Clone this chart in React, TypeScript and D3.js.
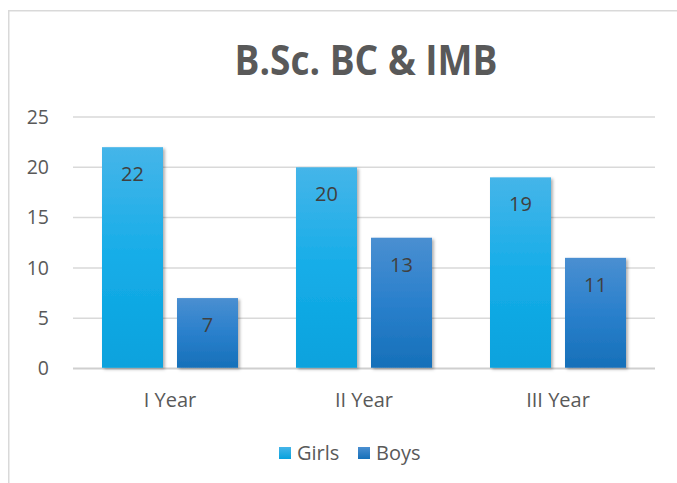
import React from "react";
import * as d3 from "d3";

const title = "B.Sc. BC & IMB";
const categories = ["I Year", "II Year", "III Year"];
const seriesNames = ["Girls", "Boys"];
const girls = [22, 20, 19];
const boys = [7, 13, 11];
const yTicks = [0, 5, 10, 15, 20, 25];

const W = 677;
const H = 483;
const FONT = "'Open Sans', sans-serif";

export default function App() {
  const plotLeft = 73;
  const plotRight = 655;
  const y = d3.scaleLinear().domain([0, 25]).range([368.5, 117]);
  const x0 = d3.scaleBand<string>().domain(categories).range([plotLeft, plotRight]);
  const x1 = d3
    .scaleBand<string>()
    .domain(seriesNames)
    .range([29, 165])
    .paddingInner(0.1867);
  const values: Record<string, number[]> = { Girls: girls, Boys: boys };
  const grads: Record<string, string> = { Girls: "url(#gGirls)", Boys: "url(#gBoys)" };

  return (
    <div style={{ position: "absolute", left: 0, top: 0 }}>
      <svg width={W} height={H} style={{ display: "block" }}>
        <defs>
          <linearGradient id="gGirls" x1="0" y1="0" x2="0" y2="1">
            <stop offset="0" stopColor="#45b5e9" />
            <stop offset="0.5" stopColor="#16ade8" />
            <stop offset="1" stopColor="#08a2dd" />
          </linearGradient>
          <linearGradient id="gBoys" x1="0" y1="0" x2="0" y2="1">
            <stop offset="0" stopColor="#4a8fd1" />
            <stop offset="0.5" stopColor="#2a80cc" />
            <stop offset="1" stopColor="#1670b9" />
          </linearGradient>
          <linearGradient id="lgGirls" x1="0" y1="0" x2="0" y2="1">
            <stop offset="0" stopColor="#45b5e9" />
            <stop offset="1" stopColor="#08a2dd" />
          </linearGradient>
          <linearGradient id="lgBoys" x1="0" y1="0" x2="0" y2="1">
            <stop offset="0" stopColor="#4a8fd1" />
            <stop offset="1" stopColor="#1670b9" />
          </linearGradient>
          <filter id="shadow" x="-20%" y="-10%" width="150%" height="130%">
            <feDropShadow dx="2" dy="1.5" stdDeviation="1.6" floodColor="#000" floodOpacity="0.3" />
          </filter>
        </defs>
        <rect x={0} y={0} width={W} height={H} fill="#fff" />
        <rect x={8.75} y={10.75} width={W + 10} height={H + 10} fill="#fff" stroke="#d9d9d9" strokeWidth={1.5} />
        <text
          x={366}
          y={75}
          textAnchor="middle"
          fontFamily={FONT}
          fontWeight="bold"
          fontSize={41}
          fill="#595959"
          textLength={263}
          lengthAdjust="spacingAndGlyphs"
        >
          {title}
        </text>
        {yTicks.map((t) => (
          <g key={t}>
            <line
              x1={plotLeft}
              x2={plotRight}
              y1={y(t)}
              y2={y(t)}
              stroke={t === 0 ? "#cfcfcf" : "#d9d9d9"}
              strokeWidth={t === 0 ? 2 : 1.5}
            />
            <text
              x={49}
              y={y(t)}
              dy="0.35em"
              textAnchor="end"
              fontFamily={FONT}
              fontSize={19.5}
              fill="#595959"
            >
              {t}
            </text>
          </g>
        ))}
        {categories.map((c, i) => (
          <g key={c} transform={`translate(${x0(c)},0)`}>
            {seriesNames.map((s) => {
              const v = values[s][i];
              const bx = x1(s)!;
              const bw = x1.bandwidth();
              return (
                <g key={s}>
                  <rect
                    x={bx}
                    y={y(v)}
                    width={bw}
                    height={y(0) - y(v) - 0.75}
                    fill={grads[s]}
                    filter="url(#shadow)"
                  />
                  <text
                    x={bx + bw / 2}
                    y={y(v) + 27}
                    dy="0.35em"
                    textAnchor="middle"
                    fontFamily={FONT}
                    fontSize={20}
                    fill="#404040"
                  >
                    {v}
                  </text>
                </g>
              );
            })}
            <text
              x={x0.bandwidth() / 2}
              y={400}
              dy="0.35em"
              textAnchor="middle"
              fontFamily={FONT}
              fontSize={20}
              fill="#595959"
            >
              {c}
            </text>
          </g>
        ))}
        {seriesNames.map((s, i) => {
          const lx = i === 0 ? 279 : 358;
          return (
            <g key={s}>
              <rect x={lx} y={447} width={12} height={12} fill={i === 0 ? "url(#lgGirls)" : "url(#lgBoys)"} />
              <text
                x={lx + 18}
                y={453}
                dy="0.35em"
                fontFamily={FONT}
                fontSize={20}
                fill="#595959"
              >
                {s}
              </text>
            </g>
          );
        })}
      </svg>
    </div>
  );
}
